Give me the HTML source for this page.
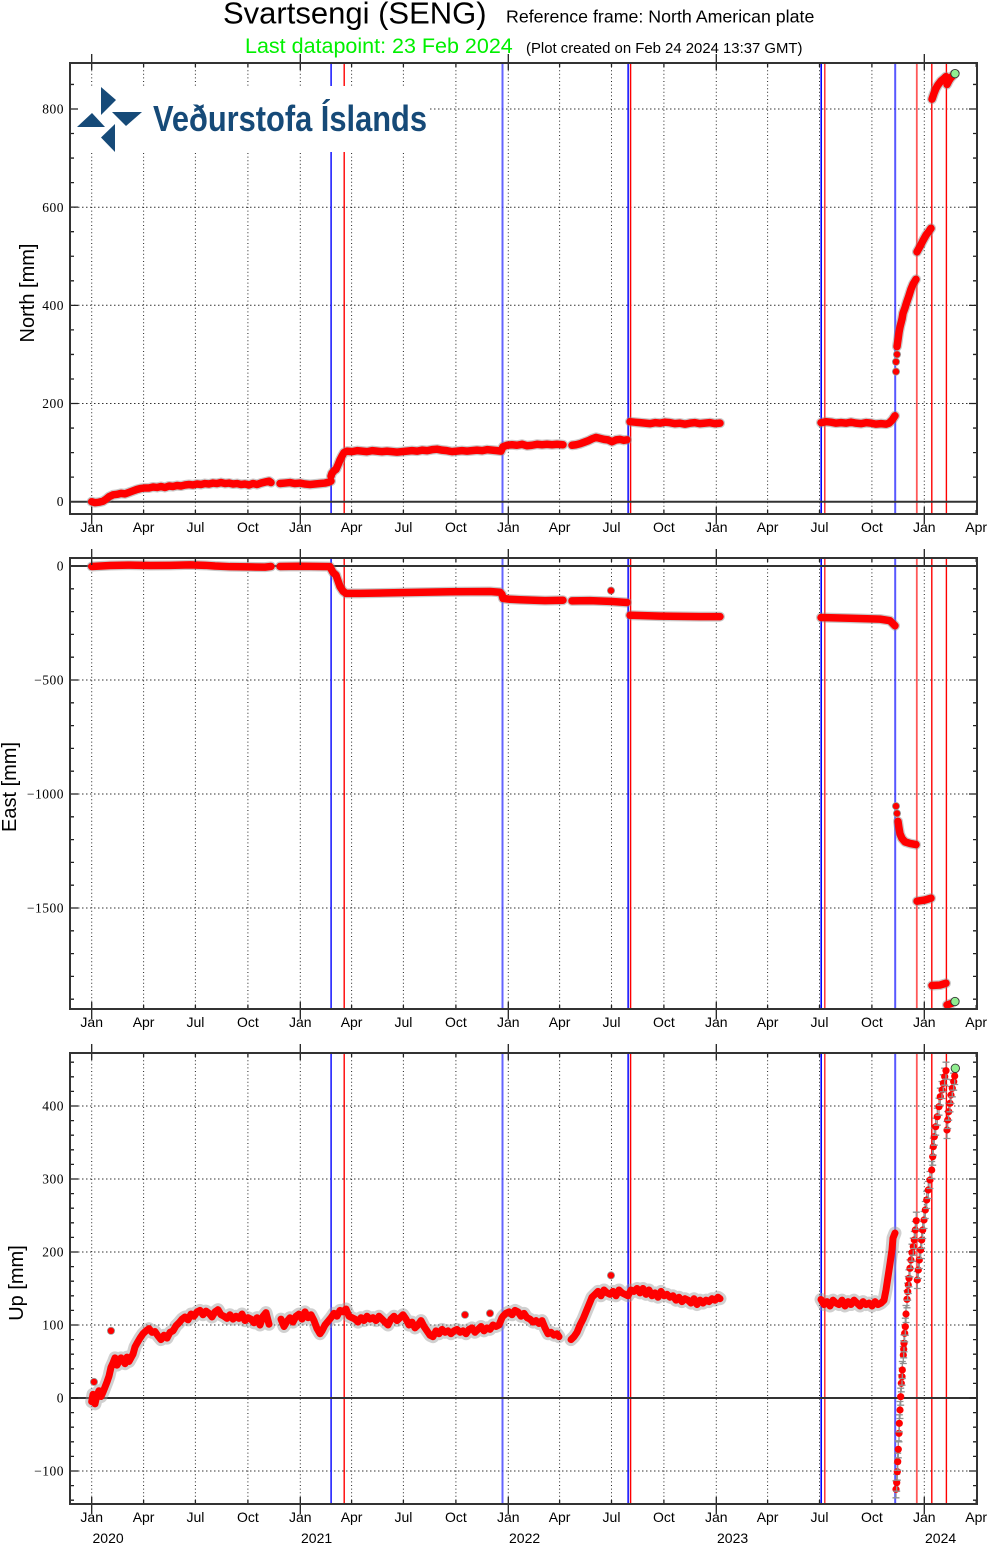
<!DOCTYPE html>
<html><head><meta charset="utf-8"><style>html,body{margin:0;padding:0;background:#fff}svg{display:block}</style></head>
<body>
<svg xmlns="http://www.w3.org/2000/svg" xmlns:xlink="http://www.w3.org/1999/xlink" width="988" height="1544" viewBox="0 0 988 1544">
<rect width="988" height="1544" fill="#fff"/>
<defs>
<clipPath id="c1"><rect x="70" y="63" width="907" height="451"/></clipPath>
<clipPath id="c2"><rect x="70" y="558" width="907" height="451"/></clipPath>
<clipPath id="c3"><rect x="70" y="1053" width="907" height="451"/></clipPath>
<marker id="eb" markerWidth="20" markerHeight="30" refX="10" refY="15" markerUnits="userSpaceOnUse" orient="0" overflow="visible">
<path d="M10 6.5v17M6.5 6.5h7M6.5 23.5h7" stroke="#909090" stroke-width="1.3" fill="none"/>
<circle cx="10" cy="15" r="3.6" fill="#f00"/>
</marker>
<g id="vg" stroke="#222" stroke-width="1" stroke-dasharray="1 2.6" fill="none">
<path d="M91.7 0V451M143.6 0V451M195.4 0V451M247.9 0V451M300.3 0V451M351.6 0V451M403.4 0V451M455.9 0V451M508.3 0V451M559.6 0V451M611.5 0V451M663.9 0V451M716.3 0V451M767.6 0V451M819.5 0V451M871.9 0V451M924.3 0V451"/>
</g>
<g id="xt" stroke="#222" stroke-width="1.3" fill="none">
<path d="M143.6 451v-4M195.4 451v-4M247.9 451v-4M351.6 451v-4M403.4 451v-4M455.9 451v-4M559.6 451v-4M611.5 451v-4M663.9 451v-4M767.6 451v-4M819.5 451v-4M871.9 451v-4M976.2 451v-4"/>
<path d="M143.6 0v4M195.4 0v4M247.9 0v4M351.6 0v4M403.4 0v4M455.9 0v4M559.6 0v4M611.5 0v4M663.9 0v4M767.6 0v4M819.5 0v4M871.9 0v4M976.2 0v4"/>
<path d="M91.7 -9v16M300.3 -9v16M508.3 -9v16M716.3 -9v16M924.3 -9v16M91.7 444v17M300.3 444v17M508.3 444v17M716.3 444v17M924.3 444v17"/>
</g>
<g id="ev" fill="none">
<path d="M331.1 0V451" stroke="#0000ff" stroke-width="1.4"/>
<path d="M344.2 0V451" stroke="#ff0000" stroke-width="1.4"/>
<path d="M502.5 0V451" stroke="#3030ff" stroke-width="2" opacity="0.75"/>
<path d="M628.2 0V451" stroke="#0000ff" stroke-width="1.8" opacity="0.85"/>
<path d="M630.6 0V451" stroke="#ff0000" stroke-width="1.4"/>
<path d="M821.2 0V451" stroke="#0000ff" stroke-width="1.6"/>
<path d="M824.8 0V451" stroke="#ff0000" stroke-width="1.4" opacity="0.85"/>
<path d="M895.2 0V451" stroke="#2020ff" stroke-width="2" opacity="0.75"/>
<path d="M916.8 0V451" stroke="#ff2020" stroke-width="1.8" opacity="0.75"/>
<path d="M931.8 0V451" stroke="#ff0000" stroke-width="1.4"/>
<path d="M946.4 0V451" stroke="#ff0000" stroke-width="1.4"/>
</g>
</defs>

<!-- Titles -->
<text x="223" y="23.5" font-family="Liberation Sans, sans-serif" font-size="31" fill="#000">Svartsengi (SENG)</text>
<text x="506" y="22.7" font-family="Liberation Sans, sans-serif" font-size="17.8" fill="#000">Reference frame: North American plate</text>
<text x="245" y="53" font-family="Liberation Sans, sans-serif" font-size="21.5" fill="#00f000">Last datapoint: 23 Feb 2024</text>
<text x="526" y="53" font-family="Liberation Sans, sans-serif" font-size="14.9" fill="#000">(Plot created on Feb 24 2024 13:37 GMT)</text>

<!-- ============ PANEL 1 NORTH ============ -->
<use xlink:href="#vg" y="63"/>
<g stroke="#333" stroke-width="1" stroke-dasharray="1.5 2.5" fill="none">
<path d="M70 403.5H977M70 305.3H977M70 207.2H977M70 109H977"/>
</g>
<use xlink:href="#ev" y="63"/>
<path d="M70 501.7H977" stroke="#333" stroke-width="2"/>
<!-- logo -->
<rect x="71" y="86" width="359" height="66" fill="#fff"/>
<g fill="#164a78">
<polygon points="101,87 116,100 101,115"/>
<polygon points="77,127 92,113 105,127"/>
<polygon points="112,112 142,112 126,126"/>
<polygon points="115,124 101,137.5 115,152"/>
</g>
<text x="153" y="131" font-family="Liberation Sans, sans-serif" font-weight="bold" font-size="36" fill="#164a78" textLength="274" lengthAdjust="spacingAndGlyphs">Veðurstofa Íslands</text>

<g clip-path="url(#c1)">
<g transform="matrix(1 0 0 -0.4909 0 501.7)" fill="none" stroke-linecap="round" stroke-linejoin="round">
<g stroke="#888" stroke-width="10" opacity="0.45">
<path vector-effect="non-scaling-stroke" d="M91.7 0L95 -2L99 -1L103 1L106 5L109 10L113 14L117 15L121 17L125 16L129 19L133 22L137 25L141 27L145 28L149 28L153 30L157 29L161 31L165 29L169 32L173 31L177 33L181 32L185 34L189 35L193 34L197 36L201 35L205 37L209 36L213 38L217 37L221 39L225 37L229 38L233 36L237 37L241 35L245 36L249 34L253 37L257 35L261 38L265 40L269 42L271 39"/>
<path vector-effect="non-scaling-stroke" d="M280 37L285 38L290 39L295 37L300 38L305 36L310 35L315 36L320 37L325 38L329 40L331 42"/>
<path vector-effect="non-scaling-stroke" d="M331 52L332 58L334 63L336 66L338 75L340 85L342 93L344 100L347 103L352 102L357 104L362 103L367 102L372 104L377 103L382 102L387 103L392 102L397 101L402 102L407 103L412 104L417 103L422 105L427 104L432 106L437 107L442 105L447 104L452 102L457 103L462 104L467 103L472 104L477 105L482 104L487 106L492 105L497 104L501 103L503 112L507 115L512 116L517 115L522 117L527 114L532 115L537 117L542 116L547 117L552 116L557 117L563 116"/>
<path vector-effect="non-scaling-stroke" d="M572 115L576 116L580 118L584 121L588 124L592 128L596 131L600 129L604 127L608 126L612 122L616 126L620 127L624 125L627 126"/>
<path vector-effect="non-scaling-stroke" d="M630 163L635 162L640 161L645 160L650 159L655 161L660 160L665 162L670 161L675 159L680 160L685 158L690 160L695 161L700 159L705 160L710 161L715 159L720 160"/>
<path vector-effect="non-scaling-stroke" d="M821 161L826 163L831 162L836 160L841 161L846 160L851 162L856 160L861 159L866 161L871 160L876 158L881 159L886 158L889 160L892 166L895 175"/>
<path vector-effect="non-scaling-stroke" d="M897 316L898 330L899 345L900 356L902 372L903 384L905 395L907 408L909 420L911 433L913 443L916 453"/>
<path vector-effect="non-scaling-stroke" d="M917 509L920 520L923 532L926 543L929 551L931 557"/>
<path vector-effect="non-scaling-stroke" d="M932 820L934 832L936 842L938 849L941 857L944 862L946 866"/>
<path vector-effect="non-scaling-stroke" d="M947 850L949 858L951 864L953 868L954 870"/>
</g>
<g stroke="#f00" stroke-width="7.5">
<path vector-effect="non-scaling-stroke" d="M91.7 0L95 -2L99 -1L103 1L106 5L109 10L113 14L117 15L121 17L125 16L129 19L133 22L137 25L141 27L145 28L149 28L153 30L157 29L161 31L165 29L169 32L173 31L177 33L181 32L185 34L189 35L193 34L197 36L201 35L205 37L209 36L213 38L217 37L221 39L225 37L229 38L233 36L237 37L241 35L245 36L249 34L253 37L257 35L261 38L265 40L269 42L271 39"/>
<path vector-effect="non-scaling-stroke" d="M280 37L285 38L290 39L295 37L300 38L305 36L310 35L315 36L320 37L325 38L329 40L331 42"/>
<path vector-effect="non-scaling-stroke" d="M331 52L332 58L334 63L336 66L338 75L340 85L342 93L344 100L347 103L352 102L357 104L362 103L367 102L372 104L377 103L382 102L387 103L392 102L397 101L402 102L407 103L412 104L417 103L422 105L427 104L432 106L437 107L442 105L447 104L452 102L457 103L462 104L467 103L472 104L477 105L482 104L487 106L492 105L497 104L501 103L503 112L507 115L512 116L517 115L522 117L527 114L532 115L537 117L542 116L547 117L552 116L557 117L563 116"/>
<path vector-effect="non-scaling-stroke" d="M572 115L576 116L580 118L584 121L588 124L592 128L596 131L600 129L604 127L608 126L612 122L616 126L620 127L624 125L627 126"/>
<path vector-effect="non-scaling-stroke" d="M630 163L635 162L640 161L645 160L650 159L655 161L660 160L665 162L670 161L675 159L680 160L685 158L690 160L695 161L700 159L705 160L710 161L715 159L720 160"/>
<path vector-effect="non-scaling-stroke" d="M821 161L826 163L831 162L836 160L841 161L846 160L851 162L856 160L861 159L866 161L871 160L876 158L881 159L886 158L889 160L892 166L895 175"/>
<path vector-effect="non-scaling-stroke" d="M897 316L898 330L899 345L900 356L902 372L903 384L905 395L907 408L909 420L911 433L913 443L916 453"/>
<path vector-effect="non-scaling-stroke" d="M917 509L920 520L923 532L926 543L929 551L931 557"/>
<path vector-effect="non-scaling-stroke" d="M932 820L934 832L936 842L938 849L941 857L944 862L946 866"/>
<path vector-effect="non-scaling-stroke" d="M947 850L949 858L951 864L953 868L954 870"/>
</g>
</g>
<g fill="#f00" stroke="#999" stroke-width="0.8">
<circle cx="896" cy="371.6" r="3.6"/><circle cx="896" cy="361.8" r="3.6"/><circle cx="897" cy="354.4" r="3.6"/>
</g>
<circle cx="955" cy="73.6" r="4.2" fill="#90ee90" stroke="#333" stroke-width="0.9"/>
</g>
<!-- y ticks panel1 -->
<g transform="matrix(1 0 0 -0.4909 0 501.7)" stroke="#222" fill="none">
<path vector-effect="non-scaling-stroke" stroke-width="1.3" d="M70 50h4M70 100h4M70 150h4M70 250h4M70 300h4M70 350h4M70 450h4M70 500h4M70 550h4M70 650h4M70 700h4M70 750h4M70 850h4M973 50h4M973 100h4M973 150h4M973 250h4M973 300h4M973 350h4M973 450h4M973 500h4M973 550h4M973 650h4M973 700h4M973 750h4M973 850h4M70 200h8M70 400h8M70 600h8M70 800h8M969 200h8M969 400h8M969 600h8M969 800h8"/>
</g>
<use xlink:href="#xt" y="63"/>
<rect x="70" y="63" width="907" height="451" fill="none" stroke="#333" stroke-width="2"/>
<g font-family="Liberation Serif, serif" font-size="13.5" letter-spacing="0.5" text-anchor="end" fill="#000">
<text x="64" y="506">0</text><text x="64" y="408">200</text><text x="64" y="310">400</text><text x="64" y="212">600</text><text x="64" y="113.5">800</text>
</g>
<g font-family="Liberation Sans, sans-serif" font-size="14" text-anchor="middle" fill="#000">
<text x="91.7" y="532">Jan</text><text x="143.6" y="532">Apr</text><text x="195.4" y="532">Jul</text><text x="247.9" y="532">Oct</text>
<text x="300.3" y="532">Jan</text><text x="351.6" y="532">Apr</text><text x="403.4" y="532">Jul</text><text x="455.9" y="532">Oct</text>
<text x="508.3" y="532">Jan</text><text x="559.6" y="532">Apr</text><text x="611.5" y="532">Jul</text><text x="663.9" y="532">Oct</text>
<text x="716.3" y="532">Jan</text><text x="767.6" y="532">Apr</text><text x="819.5" y="532">Jul</text><text x="871.9" y="532">Oct</text>
<text x="924.3" y="532">Jan</text><text x="976.2" y="532">Apr</text>
</g>
<text transform="translate(34 293) rotate(-90)" font-family="Liberation Sans, sans-serif" font-size="20" text-anchor="middle" fill="#000">North [mm]</text>

<!-- ============ PANEL 2 EAST ============ -->
<use xlink:href="#vg" y="558"/>
<g stroke="#333" stroke-width="1" stroke-dasharray="1.5 2.5" fill="none">
<path d="M70 680H977M70 794H977M70 908H977"/>
</g>
<use xlink:href="#ev" y="558"/>
<path d="M70 566H977" stroke="#333" stroke-width="2"/>
<g clip-path="url(#c2)">
<g transform="matrix(1 0 0 -0.228 0 566)" fill="none" stroke-linecap="round" stroke-linejoin="round">
<g stroke="#888" stroke-width="10" opacity="0.45">
<path vector-effect="non-scaling-stroke" d="M91.7 -2L110 2L130 4L150 2L170 3L190 5L205 3L215 0L230 -3L250 -4L265 -5L271 -2"/>
<path vector-effect="non-scaling-stroke" d="M280 -2L300 -1L320 -2L330 -3"/>
<path vector-effect="non-scaling-stroke" d="M331 -12L333 -28L336 -40L338 -65L340 -90L343 -110L346 -120L360 -120L400 -117L450 -113L490 -112L500 -115L502 -125L503 -142L510 -146L520 -148L545 -152L563 -150"/>
<path vector-effect="non-scaling-stroke" d="M572 -153L590 -152L610 -155L627 -160"/>
<path vector-effect="non-scaling-stroke" d="M630 -216L660 -220L700 -222L720 -222"/>
<path vector-effect="non-scaling-stroke" d="M821 -226L850 -229L880 -233L890 -240L895 -262"/>
<path vector-effect="non-scaling-stroke" d="M898 -1120L899 -1150L900 -1175L902 -1195L905 -1210L910 -1217L916 -1222"/>
<path vector-effect="non-scaling-stroke" d="M917 -1470L925 -1465L931 -1457"/>
<path vector-effect="non-scaling-stroke" d="M932 -1840L940 -1838L946 -1830"/>
<path vector-effect="non-scaling-stroke" d="M947 -1925L952 -1918"/>
</g>
<g stroke="#f00" stroke-width="7.5">
<path vector-effect="non-scaling-stroke" d="M91.7 -2L110 2L130 4L150 2L170 3L190 5L205 3L215 0L230 -3L250 -4L265 -5L271 -2"/>
<path vector-effect="non-scaling-stroke" d="M280 -2L300 -1L320 -2L330 -3"/>
<path vector-effect="non-scaling-stroke" d="M331 -12L333 -28L336 -40L338 -65L340 -90L343 -110L346 -120L360 -120L400 -117L450 -113L490 -112L500 -115L502 -125L503 -142L510 -146L520 -148L545 -152L563 -150"/>
<path vector-effect="non-scaling-stroke" d="M572 -153L590 -152L610 -155L627 -160"/>
<path vector-effect="non-scaling-stroke" d="M630 -216L660 -220L700 -222L720 -222"/>
<path vector-effect="non-scaling-stroke" d="M821 -226L850 -229L880 -233L890 -240L895 -262"/>
<path vector-effect="non-scaling-stroke" d="M898 -1120L899 -1150L900 -1175L902 -1195L905 -1210L910 -1217L916 -1222"/>
<path vector-effect="non-scaling-stroke" d="M917 -1470L925 -1465L931 -1457"/>
<path vector-effect="non-scaling-stroke" d="M932 -1840L940 -1838L946 -1830"/>
<path vector-effect="non-scaling-stroke" d="M947 -1925L952 -1918"/>
</g>
</g>
<g fill="#f00" stroke="#999" stroke-width="0.8">
<circle cx="611" cy="590.6" r="3.6"/><circle cx="896" cy="806.1" r="3.6"/><circle cx="897" cy="813.4" r="3.6"/>
</g>
<circle cx="955" cy="1001.5" r="4.2" fill="#90ee90" stroke="#333" stroke-width="0.9"/>
</g>
<g transform="matrix(1 0 0 -0.228 0 566)" stroke="#222" fill="none">
<path vector-effect="non-scaling-stroke" stroke-width="1.3" d="M70 -100h4M70 -200h4M70 -300h4M70 -400h4M70 -600h4M70 -700h4M70 -800h4M70 -900h4M70 -1100h4M70 -1200h4M70 -1300h4M70 -1400h4M70 -1600h4M70 -1700h4M70 -1800h4M70 -1900h4M973 -100h4M973 -200h4M973 -300h4M973 -400h4M973 -600h4M973 -700h4M973 -800h4M973 -900h4M973 -1100h4M973 -1200h4M973 -1300h4M973 -1400h4M973 -1600h4M973 -1700h4M973 -1800h4M973 -1900h4M70 -500h8M70 -1000h8M70 -1500h8M969 -500h8M969 -1000h8M969 -1500h8"/>
</g>
<use xlink:href="#xt" y="558"/>
<rect x="70" y="558" width="907" height="451" fill="none" stroke="#333" stroke-width="2"/>
<g font-family="Liberation Serif, serif" font-size="13.5" letter-spacing="0.5" text-anchor="end" fill="#000">
<text x="64" y="570.5">0</text><text x="64" y="684.5">−500</text><text x="64" y="798.5">−1000</text><text x="64" y="912.5">−1500</text>
</g>
<g font-family="Liberation Sans, sans-serif" font-size="14" text-anchor="middle" fill="#000">
<text x="91.7" y="1027">Jan</text><text x="143.6" y="1027">Apr</text><text x="195.4" y="1027">Jul</text><text x="247.9" y="1027">Oct</text>
<text x="300.3" y="1027">Jan</text><text x="351.6" y="1027">Apr</text><text x="403.4" y="1027">Jul</text><text x="455.9" y="1027">Oct</text>
<text x="508.3" y="1027">Jan</text><text x="559.6" y="1027">Apr</text><text x="611.5" y="1027">Jul</text><text x="663.9" y="1027">Oct</text>
<text x="716.3" y="1027">Jan</text><text x="767.6" y="1027">Apr</text><text x="819.5" y="1027">Jul</text><text x="871.9" y="1027">Oct</text>
<text x="924.3" y="1027">Jan</text><text x="976.2" y="1027">Apr</text>
</g>
<text transform="translate(16 787) rotate(-90)" font-family="Liberation Sans, sans-serif" font-size="20" text-anchor="middle" fill="#000">East [mm]</text>

<!-- ============ PANEL 3 UP ============ -->
<use xlink:href="#vg" y="1053"/>
<g stroke="#333" stroke-width="1" stroke-dasharray="1.5 2.5" fill="none">
<path d="M70 1471H977M70 1325H977M70 1252H977M70 1179H977M70 1106H977"/>
</g>
<use xlink:href="#ev" y="1053"/>
<path d="M70 1398H977" stroke="#333" stroke-width="2"/>
<g clip-path="url(#c3)">
<g transform="matrix(1 0 0 -0.73 0 1398)" fill="none" stroke-linecap="round" stroke-linejoin="round">
<g stroke="#999" stroke-width="13" opacity="0.45">
<path vector-effect="non-scaling-stroke" d="M91.7 -5L93 5L95 -8L97 4L99 10L101 2L103 8L105 15L107 22L109 30L111 42L113 48L115 55L117 45L119 50L121 55L123 52L125 47L127 56L129 50L131 55L133 60L135 70L137 75L140 82L143 88L146 92L149 95L152 90L155 91L158 85L161 80L164 86L167 82L170 90L173 92L176 99L179 103L182 108L185 111L188 107L191 115L194 112L197 118L200 120L203 114L206 119L209 116L212 111L215 118L218 121L221 114L224 112L227 109L230 114L233 108L236 112L239 109L242 115L245 106L248 110L251 108L254 103L257 110L260 100L263 112L266 117L269 101"/>
<path vector-effect="non-scaling-stroke" d="M281 108L284 98L287 105L290 110L293 104L296 112L299 115L302 108L305 118L308 110L311 114L314 106L317 95L320 88L322 92L325 100L328 105L331 110L334 116L337 112L340 120L343 118L346 122L349 112L352 110L355 108L358 104L361 110L364 106L367 112L370 108L373 110L376 106L379 112L382 108L385 104L388 100L391 108L394 112L397 106L400 110L403 114L406 108L409 100L412 104L415 96L418 100L421 106L424 98L427 92L430 86L433 84L436 92L439 88L442 94L445 90L448 92L451 88L454 92L457 94L460 90L463 92L466 88L469 94L472 96L475 90L478 94L481 98L484 92L487 96L490 94L493 100L496 98L499 100L502 110"/>
<path vector-effect="non-scaling-stroke" d="M503 112L506 116L509 118L512 114L515 120L518 118L521 112L524 116L527 110L530 108L533 104L536 106L539 102L542 106L545 96L548 88L551 90L554 86L557 88L559 84"/>
<path vector-effect="non-scaling-stroke" d="M571 80L574 84L577 90L580 100L583 108L586 118L589 128L592 138L595 142L598 146L601 140L604 148L607 144L610 142L613 146L616 140L619 148L622 144L625 142L628 140L631 148L634 146L637 150L640 144L643 150L646 142L649 148L652 140L655 144L658 138L661 146L664 140L667 142L670 138L673 140L676 134L679 138L682 132L685 136L688 134L691 130L694 136L697 128L700 134L703 130L706 134L709 132L712 136L715 134L718 138L720 136"/>
<path vector-effect="non-scaling-stroke" d="M821 135L824 128L827 132L830 126L833 134L836 130L839 128L842 134L845 126L848 132L851 128L854 134L857 130L860 126L863 132L866 128L869 130L872 126L875 132L878 128L881 130L884 134L886 148L888 166L890 184L892 203L893 219L895 226"/>
</g>
<g stroke="#f00" stroke-width="7">
<path vector-effect="non-scaling-stroke" d="M91.7 -5L93 5L95 -8L97 4L99 10L101 2L103 8L105 15L107 22L109 30L111 42L113 48L115 55L117 45L119 50L121 55L123 52L125 47L127 56L129 50L131 55L133 60L135 70L137 75L140 82L143 88L146 92L149 95L152 90L155 91L158 85L161 80L164 86L167 82L170 90L173 92L176 99L179 103L182 108L185 111L188 107L191 115L194 112L197 118L200 120L203 114L206 119L209 116L212 111L215 118L218 121L221 114L224 112L227 109L230 114L233 108L236 112L239 109L242 115L245 106L248 110L251 108L254 103L257 110L260 100L263 112L266 117L269 101"/>
<path vector-effect="non-scaling-stroke" d="M281 108L284 98L287 105L290 110L293 104L296 112L299 115L302 108L305 118L308 110L311 114L314 106L317 95L320 88L322 92L325 100L328 105L331 110L334 116L337 112L340 120L343 118L346 122L349 112L352 110L355 108L358 104L361 110L364 106L367 112L370 108L373 110L376 106L379 112L382 108L385 104L388 100L391 108L394 112L397 106L400 110L403 114L406 108L409 100L412 104L415 96L418 100L421 106L424 98L427 92L430 86L433 84L436 92L439 88L442 94L445 90L448 92L451 88L454 92L457 94L460 90L463 92L466 88L469 94L472 96L475 90L478 94L481 98L484 92L487 96L490 94L493 100L496 98L499 100L502 110"/>
<path vector-effect="non-scaling-stroke" d="M503 112L506 116L509 118L512 114L515 120L518 118L521 112L524 116L527 110L530 108L533 104L536 106L539 102L542 106L545 96L548 88L551 90L554 86L557 88L559 84"/>
<path vector-effect="non-scaling-stroke" d="M571 80L574 84L577 90L580 100L583 108L586 118L589 128L592 138L595 142L598 146L601 140L604 148L607 144L610 142L613 146L616 140L619 148L622 144L625 142L628 140L631 148L634 146L637 150L640 144L643 150L646 142L649 148L652 140L655 144L658 138L661 146L664 140L667 142L670 138L673 140L676 134L679 138L682 132L685 136L688 134L691 130L694 136L697 128L700 134L703 130L706 134L709 132L712 136L715 134L718 138L720 136"/>
<path vector-effect="non-scaling-stroke" d="M821 135L824 128L827 132L830 126L833 134L836 130L839 128L842 134L845 126L848 132L851 128L854 134L857 130L860 126L863 132L866 128L869 130L872 126L875 132L878 128L881 130L884 134L886 148L888 166L890 184L892 203L893 219L895 226"/>
</g>
</g>
<g fill="#f00" stroke="#999" stroke-width="0.8">
<circle cx="94" cy="1381.9" r="3.6"/><circle cx="111" cy="1330.8" r="3.6"/><circle cx="611" cy="1275.4" r="3.6"/><circle cx="465" cy="1314.8" r="3.6"/><circle cx="490" cy="1313.3" r="3.6"/>
</g>
<polyline fill="none" stroke="none" marker-start="url(#eb)" marker-mid="url(#eb)" marker-end="url(#eb)" points="896,1489.3 896.7,1482.7 897.3,1471.7 897.7,1461.7 898.3,1449.3 899,1433.3 899.3,1423.3 900,1410 900.7,1396.7 901.3,1383.3 902,1376.7 902.3,1370 903.3,1355 903.7,1349.3 904,1343.3 904.7,1333.3 905.3,1326.7 906,1314 907,1299.3 907.7,1291.7 908.3,1285 909,1278.3 910,1268.3 911,1260 912,1252.7 913.3,1246.7 914.3,1240 915.3,1230 916.3,1220.7"/>
<polyline fill="none" stroke="none" marker-start="url(#eb)" marker-mid="url(#eb)" marker-end="url(#eb)" points="917.3,1280 918.3,1270 919.3,1260 920.7,1250 921.7,1240 922.7,1230 924,1220 925.3,1210 926.7,1200 928.3,1190 930,1180 931.7,1170 932.7,1156.7 933.3,1146.7 934.3,1136.7 935.7,1126.7 937.3,1116.7 939,1106.7 940.3,1096.7 942,1090 943.3,1083.3 944.7,1076.7 946,1070.7"/>
<polyline fill="none" stroke="none" marker-start="url(#eb)" marker-mid="url(#eb)" marker-end="url(#eb)" points="947,1130 947.7,1120 948.7,1111.7 950,1103.3 951,1095 952.3,1088.3 953.7,1081.7 954.7,1076"/>
<circle cx="955.3" cy="1068.3" r="4.2" fill="#90ee90" stroke="#333" stroke-width="0.9"/>
</g>
<g transform="matrix(1 0 0 -0.73 0 1398)" stroke="#222" fill="none">
<path vector-effect="non-scaling-stroke" stroke-width="1.3" d="M70 -140h4M70 -120h4M70 -80h4M70 -60h4M70 -40h4M70 -20h4M70 20h4M70 40h4M70 60h4M70 80h4M70 120h4M70 140h4M70 160h4M70 180h4M70 220h4M70 240h4M70 260h4M70 280h4M70 320h4M70 340h4M70 360h4M70 380h4M70 420h4M70 440h4M70 460h4M973 -140h4M973 -120h4M973 -80h4M973 -60h4M973 -40h4M973 -20h4M973 20h4M973 40h4M973 60h4M973 80h4M973 120h4M973 140h4M973 160h4M973 180h4M973 220h4M973 240h4M973 260h4M973 280h4M973 320h4M973 340h4M973 360h4M973 380h4M973 420h4M973 440h4M973 460h4M70 -100h8M70 0h8M70 100h8M70 200h8M70 300h8M70 400h8M969 -100h8M969 0h8M969 100h8M969 200h8M969 300h8M969 400h8"/>
</g>
<use xlink:href="#xt" y="1053"/>
<rect x="70" y="1053" width="907" height="451" fill="none" stroke="#333" stroke-width="2"/>
<g font-family="Liberation Serif, serif" font-size="13.5" letter-spacing="0.5" text-anchor="end" fill="#000">
<text x="64" y="1475.5">−100</text><text x="64" y="1402.5">0</text><text x="64" y="1329.5">100</text><text x="64" y="1256.5">200</text><text x="64" y="1183.5">300</text><text x="64" y="1110.5">400</text>
</g>
<g font-family="Liberation Sans, sans-serif" font-size="14" text-anchor="middle" fill="#000">
<text x="91.7" y="1522">Jan</text><text x="143.6" y="1522">Apr</text><text x="195.4" y="1522">Jul</text><text x="247.9" y="1522">Oct</text>
<text x="300.3" y="1522">Jan</text><text x="351.6" y="1522">Apr</text><text x="403.4" y="1522">Jul</text><text x="455.9" y="1522">Oct</text>
<text x="508.3" y="1522">Jan</text><text x="559.6" y="1522">Apr</text><text x="611.5" y="1522">Jul</text><text x="663.9" y="1522">Oct</text>
<text x="716.3" y="1522">Jan</text><text x="767.6" y="1522">Apr</text><text x="819.5" y="1522">Jul</text><text x="871.9" y="1522">Oct</text>
<text x="924.3" y="1522">Jan</text><text x="976.2" y="1522">Apr</text>
</g>
<g font-family="Liberation Sans, sans-serif" font-size="14" fill="#000">
<text x="92.5" y="1543">2020</text><text x="301" y="1543">2021</text><text x="509" y="1543">2022</text><text x="717" y="1543">2023</text><text x="925" y="1543">2024</text>
</g>
<text transform="translate(23 1283) rotate(-90)" font-family="Liberation Sans, sans-serif" font-size="20" text-anchor="middle" fill="#000">Up [mm]</text>
</svg>
</body></html>
